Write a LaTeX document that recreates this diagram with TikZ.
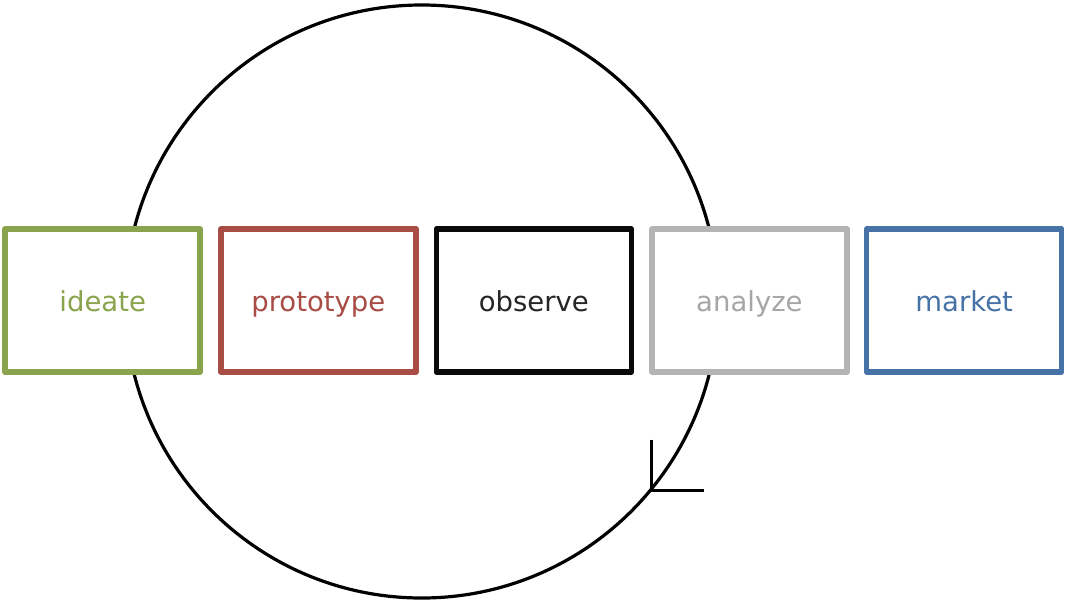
\documentclass[tikz,border=0pt]{standalone}
\usepackage{fontspec}
\setmainfont{DejaVu Sans}
\definecolor{ideagreen}{RGB}{137,164,76}
\definecolor{protored}{RGB}{168,76,69}
\definecolor{obsblack}{RGB}{10,10,10}
\definecolor{anagrey}{RGB}{180,180,180}
\definecolor{mktblue}{RGB}{70,114,166}
\tikzset{
  stage/.style={draw=#1, text=#1, fill=white, line width=5.5pt, line join=round,
    minimum width=195pt, minimum height=143pt, inner sep=0pt,
    text height=22pt, text depth=0pt,
    font=\fontsize{27.5}{32}\selectfont},
  loopline/.style={draw=black, line width=3.2pt}
}
\begin{document}
\begin{tikzpicture}[x=1pt,y=-1pt]
  \useasboundingbox (0,0) rectangle (1065,603);
  % the iteration loop behind the stages
  \node[loopline, circle, minimum size=593pt, inner sep=0pt] (loop) at (421.7,301.5) {};
  \coordinate (tip) at (651.7,490.7);
  \draw[loopline] ([yshift=51pt]tip) -- (tip) -- ([xshift=52pt]tip);
  % the stages
  \node[stage=ideagreen] (ideate) at (102.7,300.5) {ideate};
  \node[stage=protored] (prototype) at (318.3,300.5) {prototype};
  \node[stage=obsblack, text=black!85] (observe) at (533.8,300.5) {observe};
  \node[stage=anagrey, text=black!35] (analyze) at (749.4,300.5) {analyze};
  \node[stage=mktblue] (market) at (964.2,300.5) {market};
\end{tikzpicture}
\end{document}
